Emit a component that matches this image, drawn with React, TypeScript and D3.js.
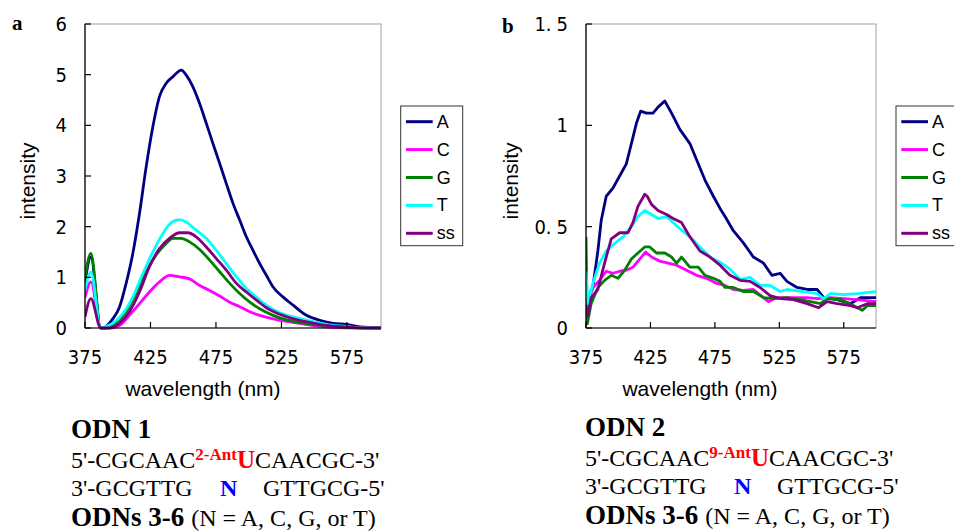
import React from 'react';
import * as d3 from 'd3';

type Pt = [number, number];

const seriesNames = ['A', 'C', 'G', 'T', 'ss'];
const seriesColors = ['#000080', '#ff00ff', '#008000', '#00ffff', '#800080'];

const xTicks = [375, 425, 475, 525, 575];
const yTicksA = [0, 1, 2, 3, 4, 5, 6];
const yTicksB = [0, 0.5, 1, 1.5];

// panel a spectra (2-Ant), [wavelength nm, intensity]
const aA: Pt[] = [[375, 0.9], [379.5, 1.4], [387, 0], [388.5, 0], [396.2, 0.18], [401.3, 0.41], [406.4, 0.88], [411.5, 1.47], [416.6, 2.26], [421.7, 3.18], [426.8, 3.97], [431.9, 4.57], [437, 4.83], [442.1, 4.96], [448.5, 5.09], [452.3, 4.99], [457.4, 4.76], [462.5, 4.43], [467.6, 4.04], [472.7, 3.64], [477.8, 3.25], [482.9, 2.85], [488, 2.46], [493.1, 2.13], [498.2, 1.8], [503.3, 1.53], [508.4, 1.27], [513.5, 1.04], [518.6, 0.81], [526.3, 0.61], [533.9, 0.45], [544.1, 0.25], [554.3, 0.15], [564.5, 0.09], [574.7, 0.07], [585, 0.02], [601, 0]];
const aC: Pt[] = [[375, 0.6], [379.5, 0.91], [387, 0], [393.6, 0], [401.3, 0.05], [408.9, 0.25], [416.6, 0.48], [424.2, 0.71], [431.9, 0.91], [439.5, 1.04], [447.2, 1.01], [454.8, 0.97], [462.5, 0.84], [470.2, 0.74], [477.8, 0.63], [485.5, 0.51], [493.1, 0.42], [500.8, 0.32], [508.4, 0.25], [518.6, 0.18], [528.8, 0.13], [539, 0.09], [551.8, 0.04], [564.5, 0.01], [601, 0]];
const aG: Pt[] = [[375, 1.0], [379.5, 1.47], [387, 0], [391, 0], [398.7, 0.1], [406.4, 0.32], [414, 0.68], [421.7, 1.11], [429.3, 1.44], [437, 1.67], [442.1, 1.77], [448.5, 1.77], [454.8, 1.7], [462.5, 1.55], [470.2, 1.34], [477.8, 1.11], [485.5, 0.88], [493.1, 0.68], [500.8, 0.51], [508.4, 0.38], [518.6, 0.25], [528.8, 0.16], [539, 0.105], [551.8, 0.06], [564.5, 0.03], [577.3, 0.01], [601, 0]];
const aT: Pt[] = [[375, 0.75], [379.5, 1.1], [387, 0], [390, 0.02], [396, 0.09], [403.8, 0.28], [411.5, 0.61], [419.1, 1.07], [426.8, 1.5], [434.4, 1.86], [440.8, 2.08], [447.2, 2.14], [452.3, 2.09], [459.9, 1.93], [467.6, 1.77], [475.3, 1.53], [482.9, 1.27], [490.6, 1.01], [498.2, 0.78], [505.9, 0.61], [513.5, 0.45], [523.7, 0.3], [533.9, 0.22], [546.7, 0.14], [559.4, 0.07], [574.7, 0.03], [587.5, 0], [601, 0]];
const aSS: Pt[] = [[375, 0.22], [379.5, 0.58], [387, 0], [393.6, 0], [401.3, 0.09], [408.9, 0.32], [416.6, 0.71], [424.2, 1.21], [431.9, 1.57], [439.5, 1.77], [447.2, 1.88], [453.6, 1.88], [459.9, 1.8], [467.6, 1.6], [475.3, 1.37], [482.9, 1.14], [490.6, 0.88], [498.2, 0.71], [505.9, 0.55], [513.5, 0.4], [523.7, 0.27], [533.9, 0.18], [546.7, 0.11], [559.4, 0.05], [574.7, 0.02], [590, 0], [601, 0]];

// panel b spectra (9-Ant)
const bA: Pt[] = [[375, 0.15], [375.6, 0.12], [380.3, 0.2], [384.2, 0.38], [386.8, 0.53], [390.7, 0.65], [395.9, 0.69], [401.1, 0.75], [406.3, 0.81], [410.2, 0.91], [414.1, 1.01], [417.4, 1.07], [421.9, 1.06], [427, 1.06], [430.9, 1.09], [436.1, 1.12], [441.4, 1.06], [447.8, 0.98], [455.6, 0.91], [460.8, 0.83], [467.3, 0.73], [473.8, 0.65], [479, 0.59], [482.9, 0.55], [489.3, 0.48], [497.1, 0.42], [504.9, 0.35], [512.7, 0.32], [519.2, 0.26], [525.7, 0.27], [530.9, 0.23], [538.7, 0.2], [546.5, 0.19], [554.3, 0.19], [559.4, 0.15], [569.9, 0.14], [580.2, 0.12], [588, 0.15], [600, 0.15]];
const bC: Pt[] = [[375, 0.1], [376.5, 0.08], [379, 0.19], [385.5, 0.235], [390.7, 0.28], [395.9, 0.27], [401.1, 0.28], [406.3, 0.285], [411.4, 0.3], [416.7, 0.34], [421.3, 0.375], [425.8, 0.35], [432.2, 0.33], [438.7, 0.32], [445.3, 0.31], [453, 0.285], [460.8, 0.26], [468.6, 0.245], [476.4, 0.22], [482.9, 0.21], [489.3, 0.19], [497.1, 0.185], [504.9, 0.19], [512.7, 0.15], [516.5, 0.13], [523, 0.15], [533.3, 0.15], [546.5, 0.15], [554.3, 0.145], [564.6, 0.15], [575, 0.145], [585.4, 0.14], [600, 0.13]];
const bG: Pt[] = [[375, 0.45], [376, 0.02], [379, 0.12], [384.2, 0.2], [389.4, 0.235], [394.6, 0.26], [399.8, 0.245], [405, 0.285], [410.2, 0.34], [415.3, 0.37], [420.6, 0.4], [424.5, 0.4], [429.7, 0.37], [436.1, 0.37], [441.4, 0.35], [445.3, 0.32], [449.1, 0.35], [455.6, 0.3], [462.1, 0.3], [467.3, 0.26], [473.8, 0.245], [479, 0.23], [482.9, 0.2], [489.3, 0.2], [497.1, 0.18], [504.9, 0.18], [512.7, 0.15], [520.4, 0.145], [530.9, 0.15], [541.3, 0.14], [549.1, 0.13], [556.9, 0.12], [562, 0.145], [572.4, 0.14], [582.8, 0.11], [589.3, 0.087], [593.2, 0.11], [600, 0.11]];
const bT: Pt[] = [[375, 0.28], [376.5, 0.12], [380.3, 0.22], [385.5, 0.32], [390.7, 0.38], [395.9, 0.41], [403.7, 0.45], [410.2, 0.5], [415.3, 0.55], [420.6, 0.58], [425.8, 0.56], [430.9, 0.54], [437.5, 0.55], [442.6, 0.52], [447.8, 0.49], [455.6, 0.45], [463.4, 0.4], [471.2, 0.35], [479, 0.325], [486.7, 0.29], [494.5, 0.24], [502.3, 0.25], [510.1, 0.21], [517.8, 0.21], [525.7, 0.18], [530.9, 0.19], [543.8, 0.18], [554.3, 0.17], [559.4, 0.145], [564.6, 0.17], [575, 0.165], [585.4, 0.17], [600, 0.18]];
const bSS: Pt[] = [[375, 0.1], [376.5, 0.06], [379, 0.15], [384.2, 0.19], [389.4, 0.32], [394.6, 0.44], [401.1, 0.47], [407.6, 0.47], [411.4, 0.52], [415.3, 0.6], [420.6, 0.66], [422.5, 0.65], [425.8, 0.61], [430.9, 0.58], [437.5, 0.56], [442.6, 0.54], [449.1, 0.52], [455.6, 0.45], [463.4, 0.38], [471.2, 0.35], [479, 0.31], [486.7, 0.26], [494.5, 0.235], [502.3, 0.23], [510.1, 0.2], [517.8, 0.16], [525.7, 0.145], [536, 0.14], [546.5, 0.12], [555.5, 0.1], [562, 0.13], [569.9, 0.12], [580.2, 0.11], [585.4, 0.1], [593.2, 0.12], [600, 0.12]];

const panelASeries = [aA, aC, aG, aT, aSS];
const panelBSeries = [bA, bC, bG, bT, bSS];

const tickFont = '"Liberation Sans Narrow", "Arial Narrow", "DejaVu Sans Condensed", sans-serif';
const labelFont = '"Liberation Sans", Arial, sans-serif';
const serif = '"Liberation Serif", "Times New Roman", serif';

interface PanelProps {
  letter: string;
  letterX: number;
  letterY: number;
  x0: number;
  x1: number;
  xMax: number;
  yMax: number;
  yTicks: number[];
  series: Pt[][];
  smooth: boolean;
  legendX: number;
  yTitleX: number;
  xTitleX: number;
  id: string;
}

function tickLabel(v: number) {
  const s = String(v);
  const i = s.indexOf('.');
  if (i < 0) return s;
  return (
    <>
      <tspan>{s.slice(0, i + 1)}</tspan>
      <tspan dx={5}>{s.slice(i + 1)}</tspan>
    </>
  );
}

function Panel(p: PanelProps) {
  const top = 24;
  const bottom = 328;
  const x = d3.scaleLinear().domain([375, p.xMax]).range([p.x0, p.x1]);
  const y = d3.scaleLinear().domain([0, p.yMax]).range([bottom, top]);
  const line = d3
    .line<Pt>()
    .x((d) => x(d[0]))
    .y((d) => y(d[1]))
    .curve(p.smooth ? d3.curveMonotoneX : d3.curveLinear);

  const legendTop = 106;
  const rowH = 27.9;

  return (
    <g>
      <text x={p.letterX} y={p.letterY} fontFamily={serif} fontWeight="bold" fontSize={21}>
        {p.letter}
      </text>
      <defs>
        <clipPath id={p.id}>
          <rect x={p.x0} y={top - 2} width={p.x1 - p.x0 + 2} height={bottom - top + 4} />
        </clipPath>
      </defs>
      {/* plot area frame */}
      <rect x={p.x0} y={top} width={p.x1 - p.x0} height={bottom - top} fill="white" stroke="#a0a0a0" strokeWidth={1} />
      <g clipPath={`url(#${p.id})`}>
        {p.series.map((s, i) => (
          <path key={i} d={line(s) || ''} fill="none" stroke={seriesColors[i]} strokeWidth={2.8} strokeLinejoin="round" />
        ))}
      </g>
      {/* axes */}
      <line x1={p.x0} x2={p.x0} y1={top} y2={bottom} stroke="black" strokeWidth={1.2} />
      <line x1={p.x0} x2={p.x1} y1={bottom} y2={bottom} stroke="black" strokeWidth={1.2} />
      {p.yTicks.map((t) => (
        <g key={t}>
          <line x1={p.x0} x2={p.x0 + 6} y1={y(t)} y2={y(t)} stroke="black" strokeWidth={1.2} />
          <text
            x={p.x0 - 18}
            y={y(t)}
            textAnchor="end"
            dominantBaseline="central"
            fontFamily={tickFont}
            fontSize={20}
          >
            {tickLabel(t)}
          </text>
        </g>
      ))}
      {xTicks.map((t) => (
        <g key={t}>
          <line x1={x(t)} x2={x(t)} y1={bottom} y2={bottom - 6} stroke="black" strokeWidth={1.2} />
          <text x={x(t)} y={364} textAnchor="middle" fontFamily={tickFont} fontSize={20}>
            {t}
          </text>
        </g>
      ))}
      <text
        transform={`translate(${p.yTitleX},181) rotate(-90)`}
        textAnchor="middle"
        dominantBaseline="central"
        fontFamily={labelFont}
        fontSize={21}
      >
        intensity
      </text>
      <text x={p.xTitleX} y={396} textAnchor="middle" fontFamily={labelFont} fontSize={21}>
        wavelength (nm)
      </text>
      {/* legend */}
      <rect x={p.legendX} y={legendTop} width={62} height={139.7} fill="white" stroke="#333" strokeWidth={1} />
      {seriesNames.map((n, i) => {
        const cy = legendTop + 15.7 + i * rowH;
        return (
          <g key={n}>
            <line x1={p.legendX + 5.3} x2={p.legendX + 32} y1={cy} y2={cy} stroke={seriesColors[i]} strokeWidth={3} />
            <text x={p.legendX + 36} y={cy} dominantBaseline="central" fontFamily={labelFont} fontSize={18}>
              {n}
            </text>
          </g>
        );
      })}
    </g>
  );
}

interface DuplexProps {
  x: number;
  y0: number;
  name: string;
  mod: string;
}

function Duplex({ x, y0, name, mod }: DuplexProps) {
  return (
    <g fontFamily={serif}>
      <text x={x} y={y0} fontWeight="bold" fontSize={27}>
        {name}
      </text>
      <text x={x} y={y0 + 30} fontSize={24}>
        <tspan>5'-CGCAAC</tspan>
        <tspan fill="#ff0000" fontWeight="bold" fontSize={17} dy={-8}>
          {mod}
        </tspan>
        <tspan fill="#ff0000" fontWeight="bold" fontSize={25} dy={8}>
          U
        </tspan>
        <tspan>CAACGC-3'</tspan>
      </text>
      <text x={x} y={y0 + 58} fontSize={24}>
        3'-GCGTTG
      </text>
      <text x={x + 149} y={y0 + 58} fontSize={24} fontWeight="bold" fill="#0000ff">
        N
      </text>
      <text x={x + 192} y={y0 + 58} fontSize={24}>
        GTTGCG-5'
      </text>
      <text x={x} y={y0 + 88} fontSize={24}>
        <tspan fontWeight="bold" fontSize={27}>
          ODNs 3-6
        </tspan>
        <tspan dx={7}>(N = A, C, G, or T)</tspan>
      </text>
    </g>
  );
}

export default function App() {
  return (
    <svg
      width={954}
      height={532}
      viewBox="0 0 954 532"
      style={{ position: 'absolute', left: 0, top: 0, background: 'white' }}
    >
      <rect width={954} height={532} fill="white" />
      <Panel
        id="clipA"
        letter="a"
        letterX={12}
        letterY={30}
        x0={85}
        x1={381}
        xMax={601}
        yMax={6}
        yTicks={yTicksA}
        series={panelASeries}
        smooth={true}
        legendX={400.7}
        yTitleX={27}
        xTitleX={203}
      />
      <Panel
        id="clipB"
        letter="b"
        letterX={502}
        letterY={33}
        x0={586}
        x1={876}
        xMax={600}
        yMax={1.5}
        yTicks={yTicksB}
        series={panelBSeries}
        smooth={false}
        legendX={896}
        yTitleX={510}
        xTitleX={700}
      />
      <Duplex x={71} y0={438} name="ODN 1" mod="2-Ant" />
      <Duplex x={585} y0={436} name="ODN 2" mod="9-Ant" />
    </svg>
  );
}
